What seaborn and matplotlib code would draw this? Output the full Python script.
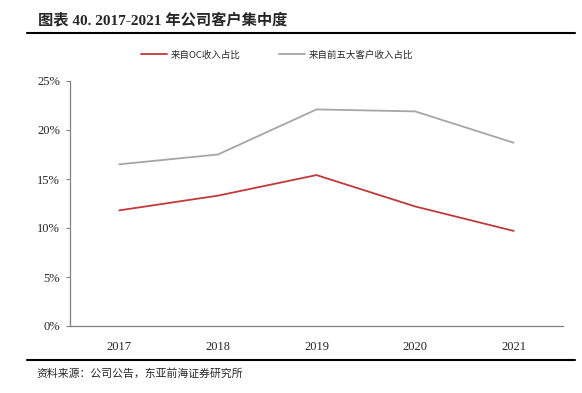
import pandas as pd
import matplotlib.pyplot as plt
import matplotlib.ticker as mtick
from matplotlib.lines import Line2D
import seaborn as sns

years = ["2017", "2018", "2019", "2020", "2021"]
oc_share = [11.8, 13.3, 15.4, 12.2, 9.7]
top5_share = [16.5, 17.5, 22.1, 21.9, 18.7]
series_names = ["来自OC收入占比", "来自前五大客户收入占比"]
colors = ["#C0393B", "#A6A6A6"]

df = pd.DataFrame({"year": years * 2,
                   "value": oc_share + top5_share,
                   "series": [series_names[0]] * 5 + [series_names[1]] * 5})

sns.set_style("white")
plt.rcParams['font.family'] = ['Liberation Serif', 'Noto Sans CJK SC', 'DejaVu Sans']

fig = plt.figure(figsize=(5.82, 3.93), dpi=100)
ax = fig.add_axes([70 / 582, 1 - 326 / 393, 493 / 582, 245 / 393])

sns.lineplot(data=df, x="year", y="value", hue="series", palette=colors,
             linewidth=1.3, ax=ax, legend=False, sort=False)

ax.set_xlim(-0.5, 4.5)
ax.set_ylim(0, 25)
ax.yaxis.set_major_locator(mtick.MultipleLocator(5))
ax.yaxis.set_major_formatter(mtick.PercentFormatter(decimals=0))
ax.set_xlabel("")
ax.set_ylabel("")
for side in ["top", "right"]:
    ax.spines[side].set_visible(False)
for side in ["left", "bottom"]:
    ax.spines[side].set_color("#808080")
    ax.spines[side].set_linewidth(0.9)
ax.tick_params(axis="y", left=True, length=3, width=0.8, color="#808080",
               labelsize=9, pad=4)
ax.tick_params(axis="x", bottom=False, labelsize=9, pad=7)

handles = [Line2D([], [], color=c, linewidth=1.3) for c in colors]
fig.legend(handles, series_names, loc="center", bbox_to_anchor=(277 / 582, 1 - 55 / 393),
           ncol=2, frameon=False, handlelength=2.8, handletextpad=0.4,
           columnspacing=4,
           prop={"family": ["Noto Sans CJK SC"], "size": 6.8})

fig.text(38 / 582, 1 - 20 / 393, "图表 40. 2017-2021 年公司客户集中度",
         fontsize=11, fontweight="bold", va="center", ha="left",
         family=["Liberation Serif", "Noto Sans CJK SC"])
fig.add_artist(Line2D([27 / 582, 575 / 582], [1 - 33 / 393, 1 - 33 / 393],
                      color="black", linewidth=1.5))
fig.add_artist(Line2D([27 / 582, 575 / 582], [1 - 360 / 393, 1 - 360 / 393],
                      color="black", linewidth=1.5))
fig.text(36 / 582, 1 - 373 / 393, "资料来源：公司公告，东亚前海证券研究所",
         fontsize=7.8, va="center", ha="left", family=["Noto Sans CJK SC"])

fig.savefig("out.png", dpi=100)
